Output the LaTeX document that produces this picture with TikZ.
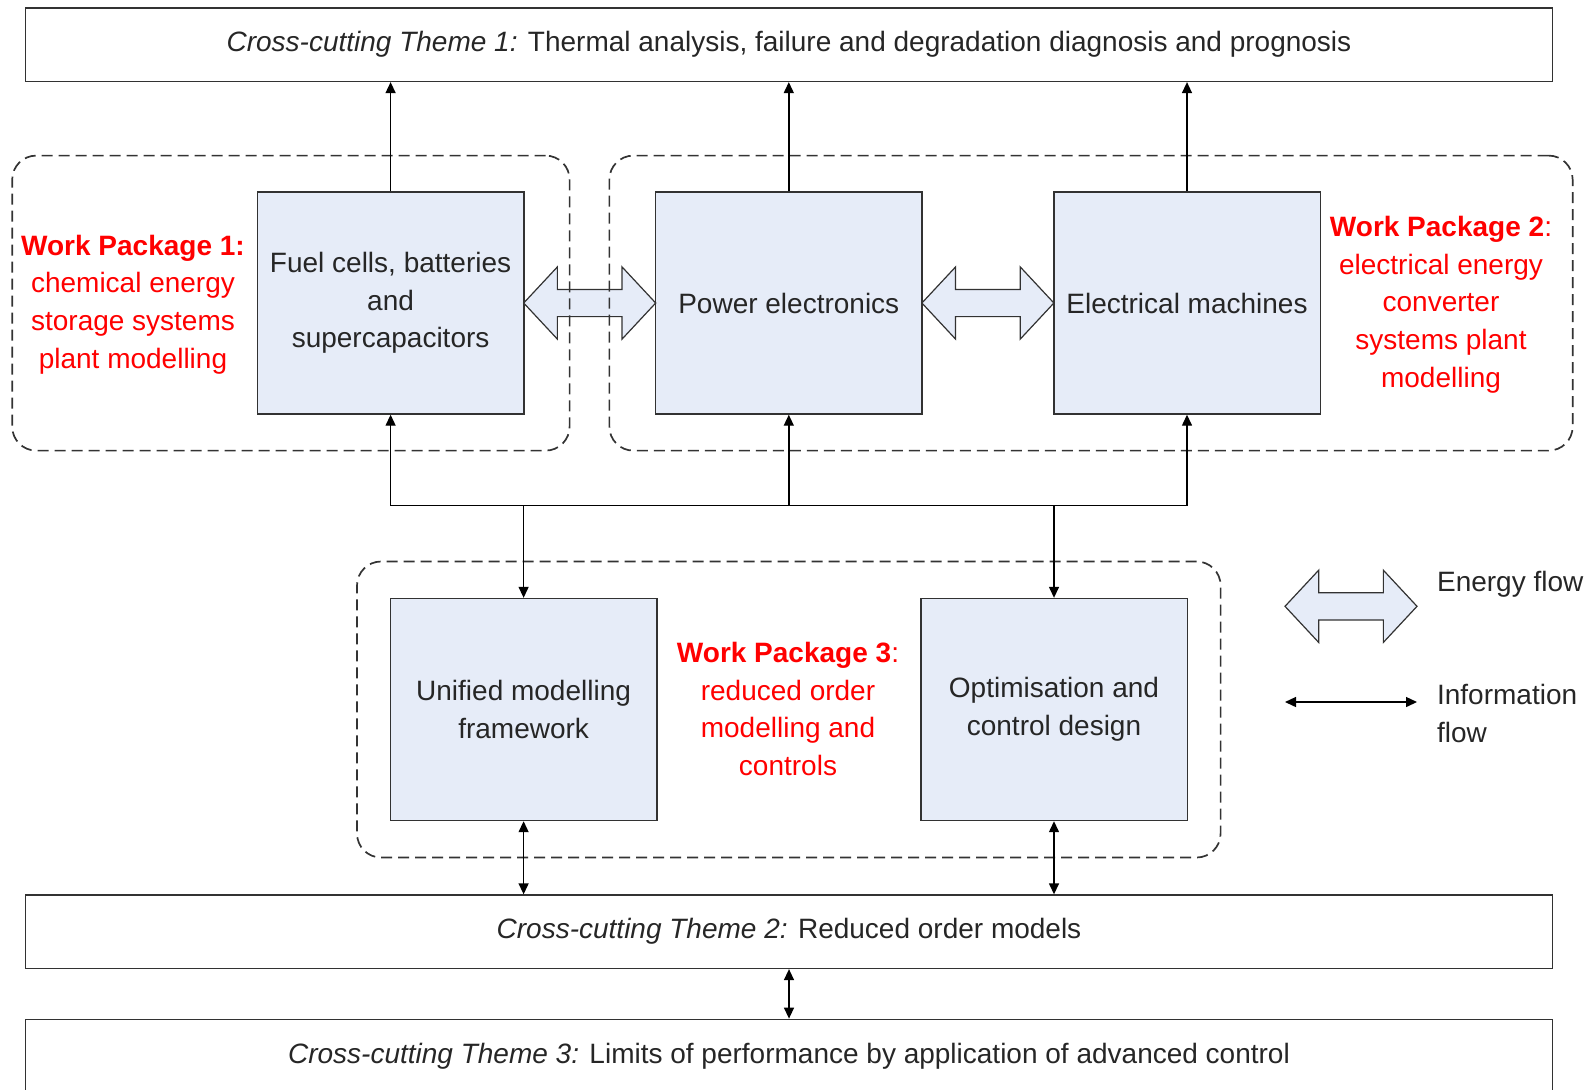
\documentclass[tikz,border=0pt]{standalone}
\usepackage{fontspec}
\setmainfont{Liberation Sans}
\usetikzlibrary{arrows.meta,shapes.arrows}
\definecolor{boxfill}{RGB}{230,236,248}
\definecolor{wpred}{RGB}{255,0,0}
\definecolor{edge}{RGB}{50,50,50}
\begin{document}
\begin{tikzpicture}[x=0.5pt,y=-0.5pt,
  every node/.style={font=\fontsize{14}{18.8}\selectfont, text=black!85},
  blockbox/.style={draw=edge, fill=boxfill, line width=0.8pt, minimum width=133.3pt, minimum height=110.9pt, align=center, inner sep=0pt},
  theme/.style={draw=edge, line width=0.8pt, minimum width=763.5pt, minimum height=36.6pt, inner sep=0pt},
  region/.style={draw=black!80, dash pattern=on 5.5pt off 3pt, rounded corners=12pt, line width=0.85pt, inner sep=0pt},
  wptext/.style={text=wpred, align=center},
  info/.style={draw=black, line width=0.7pt, -{Triangle[length=5.5pt,width=5pt]}},
  infoboth/.style={draw=black, line width=0.7pt, {Triangle[length=5.5pt,width=5pt]}-{Triangle[length=5.5pt,width=5pt]}},
  energy/.style={double arrow, draw=edge, fill=boxfill, line width=0.6pt, minimum height=66pt, minimum width=35.5pt, double arrow head extend=11.25pt, double arrow tip angle=94, inner xsep=0pt, inner ysep=6.5pt},
]
\useasboundingbox (0,0) rectangle (1595,1089);

% themes
\node[theme] (t1) at (789,44.7) {\textit{Cross-cutting Theme 1:} Thermal analysis, failure and degradation diagnosis and prognosis};
\node[theme] (t2) at (789,931.7) {\textit{Cross-cutting Theme 2:} Reduced order models};
\node[theme] (t3) at (789,1056) {\textit{Cross-cutting Theme 3:} Limits of performance by application of advanced control};

% blocks
\node[blockbox] (fc) at (390.6,303) {Fuel cells, batteries\\and\\supercapacitors};
\node[blockbox] (pe) at (788.8,303) {Power electronics};
\node[blockbox] (em) at (1187,303) {Electrical machines};
\node[blockbox] (um) at (523.6,709.5) {Unified modelling\\framework};
\node[blockbox] (oc) at (1054,709.5) {Optimisation and\\control design};

% energy arrows
\node[energy] (e1) at (589.7,303) {};
\node[energy] (e2) at (987.9,303) {};
\node[energy] (e3) at (1351,606.3) {};

% dashed regions
\node[region, minimum width=278.7pt, minimum height=147.5pt] (r1) at (290.9,303.1) {};
\node[region, minimum width=481.65pt, minimum height=147.5pt] (r2) at (1091,303.1) {};
\node[region, minimum width=431.8pt, minimum height=148pt] (r3) at (788.8,709.5) {};

% work package texts
\node[wptext] (wp1) at (133,304.5) {\textbf{Work Package 1:}\\chemical energy\\storage systems\\plant modelling};
\node[wptext] (wp2) at (1441,304.7) {\textbf{Work Package 2}:\\electrical energy\\converter\\systems plant\\modelling};
\node[wptext] (wp3) at (788,709) {\textbf{Work Package 3}:\\reduced order\\modelling and\\controls};

% information flow
\draw[info] (fc.north) -- (fc.north |- t1.south);
\draw[info] (pe.north) -- (pe.north |- t1.south);
\draw[info] (em.north) -- (em.north |- t1.south);

\coordinate (bl) at (390.6,505.5);
\coordinate (br) at (1187,505.5);
\draw[line width=0.8pt] (bl) -- (br);
\draw[info] (bl) -- (fc.south);
\draw[info] (pe.south |- bl) -- (pe.south);
\draw[info] (br) -- (em.south);
\draw[info] (um.north |- bl) -- (um.north);
\draw[info] (oc.north |- bl) -- (oc.north);

\draw[infoboth] (um.south) -- (um.south |- t2.north);
\draw[infoboth] (oc.south) -- (oc.south |- t2.north);
\draw[infoboth] (t2.south) -- (t3.north);

% legend
\coordinate (la) at (1285,702);
\coordinate (lb) at (1417,702);
\draw[infoboth] (la) -- (lb);
\node[anchor=west] (lef) at (1430,584) {Energy flow};
\node[anchor=west, align=left] (lif) at (1430,713.5) {Information\\flow};
\end{tikzpicture}
\end{document}
